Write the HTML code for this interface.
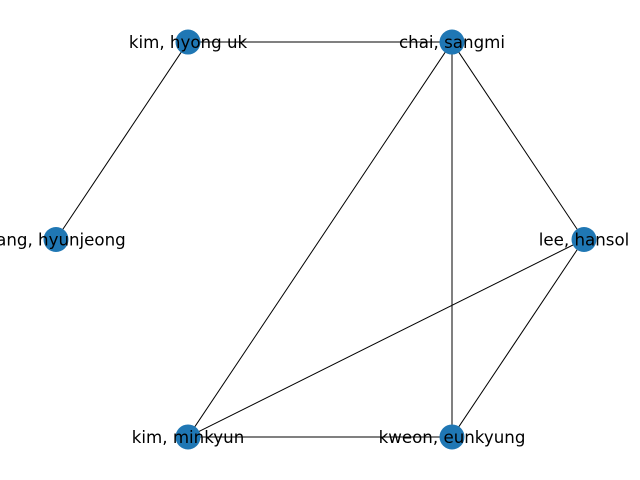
<!DOCTYPE html>
<html><head><meta charset="utf-8"><style>
html,body{margin:0;padding:0;background:#fff;}
svg{display:block;}
text{font-family:"DejaVu Sans","Liberation Sans",sans-serif;font-size:16.67px;fill:#000;}
</style></head><body>
<svg id="chart" width="640" height="480"></svg>
<script>
// Node names in circular-layout order (angle = 360*i/n, starting at the right)
const nodeNames = ["lee, hansol", "chai, sangmi", "kim, hyong uk", "yang, hyunjeong", "kim, minkyun", "kweon, eunkyung"];
const edgeSources = ["kim, hyong uk", "kim, hyong uk", "chai, sangmi", "chai, sangmi", "chai, sangmi", "lee, hansol", "lee, hansol", "kim, minkyun"];
const edgeTargets = ["chai, sangmi", "yang, hyunjeong", "kim, minkyun", "kweon, eunkyung", "lee, hansol", "kim, minkyun", "kweon, eunkyung", "kweon, eunkyung"];

const svg = document.getElementById('chart');
const NS = 'http://www.w3.org/2000/svg';
const cx = 320, cy = 239.5, rx = 264, ry = 228;
function pos(name){
  const i = nodeNames.indexOf(name);
  const a = 2*Math.PI*i/nodeNames.length;
  return [cx + rx*Math.cos(a), cy - ry*Math.sin(a)];
}
for (let k=0;k<edgeSources.length;k++){
  const p=pos(edgeSources[k]), q=pos(edgeTargets[k]);
  const l=document.createElementNS(NS,'line');
  l.setAttribute('x1',p[0]);l.setAttribute('y1',p[1]);
  l.setAttribute('x2',q[0]);l.setAttribute('y2',q[1]);
  l.setAttribute('stroke','#000');l.setAttribute('stroke-width','1');
  
  
  svg.appendChild(l);
}
for (const n of nodeNames){
  const p=pos(n);
  const c=document.createElementNS(NS,'circle');
  c.setAttribute('cx',p[0]);c.setAttribute('cy',p[1]);c.setAttribute('r','12.5');
  c.setAttribute('fill','#1f77b4');
  
  
  svg.appendChild(c);
}
for (const n of nodeNames){
  const p=pos(n);
  const t=document.createElementNS(NS,'text');
  t.setAttribute('x',p[0]);t.setAttribute('y',p[1]+6);
  t.setAttribute('text-anchor','middle');
  t.textContent=n;
  
  
  svg.appendChild(t);
}
</script>
</body></html>
